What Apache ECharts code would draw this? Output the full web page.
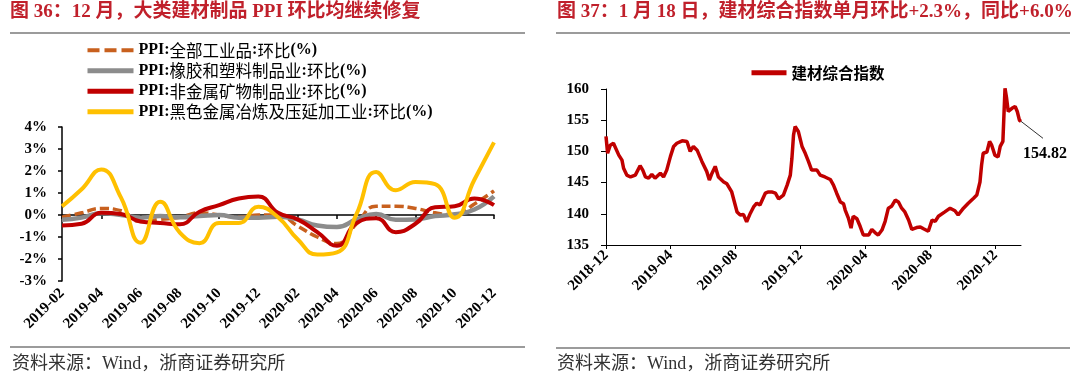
<!DOCTYPE html>
<html><head><meta charset="utf-8">
<script src="https://cdn.jsdelivr.net/npm/echarts@6/dist/echarts.min.js"></script>
<style>html,body{margin:0;padding:0;background:#fff}#c{width:1080px;height:374px}</style>
</head><body><div id="c"></div>
<script>
// ---------- Left chart data (PPI month-on-month, %) ----------
const months = ['2019-02','2019-03','2019-04','2019-05','2019-06','2019-07','2019-08','2019-09','2019-10','2019-11','2019-12','2020-01','2020-02','2020-03','2020-04','2020-05','2020-06','2020-07','2020-08','2020-09','2020-10','2020-11','2020-12'];
const nameAll = 'PPI:全部工业品:环比(%)';
const nameRubber = 'PPI:橡胶和塑料制品业:环比(%)';
const nameNonMetal = 'PPI:非金属矿物制品业:环比(%)';
const nameFerrous = 'PPI:黑色金属冶炼及压延加工业:环比(%)';
const ppiAll   = [-0.1, 0.1, 0.3, 0.2, -0.3, -0.2, -0.1, 0.1, 0.0, -0.1, 0.0, 0.0, -0.5, -1.0, -1.3, -0.4, 0.4, 0.4, 0.3, 0.1, 0.0, 0.5, 1.1];
const rubber   = [-0.22, -0.12, 0.08, 0.0, -0.12, -0.05, -0.1, -0.05, 0.0, -0.12, -0.12, -0.08, -0.2, -0.48, -0.55, -0.2, 0.05, -0.22, -0.2, -0.05, 0.03, 0.25, 0.85];
const nonMetal = [-0.48, -0.4, 0.1, 0.05, -0.3, -0.36, -0.42, 0.15, 0.45, 0.75, 0.84, 0.1, -0.2, -0.78, -1.4, -0.36, -0.15, -0.78, -0.4, 0.35, 0.4, 0.75, 0.45];
const ferrous  = [0.39, 1.17, 2.07, 0.8, -1.26, 0.6, -0.8, -1.28, -0.36, -0.36, 0.37, -0.1, -1.1, -1.8, -1.7, 0.05, 1.95, 1.13, 1.5, 1.4, -0.12, 1.6, 3.3];

// ---------- Right chart data (建材综合指数) ----------
const idxName = '建材综合指数';
const idxDates = ['2018-12-01','2018-12-04','2018-12-09','2018-12-15','2018-12-18','2018-12-25','2018-12-31','2019-01-03','2019-01-09','2019-01-16','2019-01-25','2019-02-03','2019-02-08','2019-02-13','2019-02-19','2019-02-25','2019-03-03','2019-03-13','2019-03-19','2019-03-25','2019-04-01','2019-04-07','2019-04-13','2019-04-23','2019-05-02','2019-05-08','2019-05-14','2019-05-21','2019-05-30','2019-06-08','2019-06-13','2019-06-18','2019-06-24','2019-06-30','2019-07-10','2019-07-16','2019-07-25','2019-08-04','2019-08-10','2019-08-16','2019-08-22','2019-08-29','2019-09-04','2019-09-10','2019-09-16','2019-09-26','2019-10-02','2019-10-08','2019-10-15','2019-10-21','2019-10-30','2019-11-06','2019-11-12','2019-11-15','2019-11-18','2019-11-21','2019-11-27','2019-12-04','2019-12-10','2019-12-16','2019-12-22','2020-01-01','2020-01-07','2020-01-16','2020-01-26','2020-02-01','2020-02-07','2020-02-14','2020-02-20','2020-02-23','2020-02-29','2020-03-05','2020-03-09','2020-03-16','2020-03-22','2020-03-28','2020-04-07','2020-04-13','2020-04-19','2020-04-25','2020-05-02','2020-05-08','2020-05-14','2020-05-20','2020-05-27','2020-06-02','2020-06-08','2020-06-14','2020-06-21','2020-06-27','2020-07-06','2020-07-13','2020-07-19','2020-07-28','2020-08-04','2020-08-10','2020-08-16','2020-08-28','2020-09-07','2020-09-16','2020-09-22','2020-10-02','2020-10-11','2020-10-21','2020-10-27','2020-11-02','2020-11-05','2020-11-08','2020-11-15','2020-11-20','2020-11-24','2020-11-30','2020-12-06','2020-12-10','2020-12-15','2020-12-19','2020-12-22','2020-12-25','2021-01-01','2021-01-07','2021-01-11','2021-01-15','2021-01-18'];
const idxValues = [152.4,149.7,151.0,151.3,151.0,149.4,148.6,147.3,146.2,145.9,146.2,147.7,147.0,145.9,145.7,146.3,145.7,146.5,145.9,147.0,149.2,150.8,151.3,151.7,151.6,150.0,150.8,150.2,148.4,146.8,145.4,146.5,147.6,145.9,145.1,144.8,143.5,140.3,139.8,139.9,138.7,140.1,141.1,141.7,141.4,143.3,143.5,143.5,143.3,142.4,143.0,144.6,146.2,148.9,152.6,154.0,153.2,150.8,149.7,148.4,147.0,147.0,146.2,145.9,145.5,144.6,143.3,141.9,141.6,140.6,139.3,137.7,139.6,139.2,138.0,136.6,136.6,137.5,137.0,136.6,137.4,138.8,140.9,141.2,142.2,141.9,140.9,140.3,139.0,137.5,137.8,137.9,137.6,137.2,139.0,138.8,139.6,140.3,140.9,140.5,139.8,140.9,141.7,142.5,143.0,145.1,147.8,149.7,149.9,151.6,151.0,149.4,149.1,150.8,151.6,160.1,158.5,156.4,156.9,157.2,156.4,155.0,154.82];
const idxTickDates = ['2018-12-01','2019-04-01','2019-08-01','2019-12-01','2020-04-01','2020-08-01','2020-12-01'];
const idxMin = '2018-12-01', idxMax = '2021-01-18';

// ---------- Texts ----------
const titleLeft = '图 36：12 月，大类建材制品 PPI 环比均继续修复';
const titleRight = '图 37：1 月 18 日，建材综合指数单月环比+2.3%，同比+6.0%';
const sourceText = '资料来源：Wind，浙商证券研究所';

function ts(s){ const p = s.split('-').map(Number); return new Date(p[0], p[1]-1, p[2]).getTime(); }
function ym(v){ const d = new Date(v); return d.getFullYear() + '-' + String(d.getMonth()+1).padStart(2,'0'); }
function richName(name){
  return name.replace(/[\x00-\x7F]+|[^\x00-\x7F]+/g, s => (/^[\x00-\x7F]/.test(s) ? '{a|' + s + '}' : '{b|' + s + '}'));
}

const SERIF = "'Liberation Serif', 'Noto Sans CJK SC', serif";
const CJK = "'Noto Sans CJK SC', sans-serif";
const RED_T = '#C0202B';

const chart = echarts.init(document.getElementById('c'), null, {renderer: 'canvas'});
const axisLabelStyle = {color: '#000', fontFamily: "'Liberation Serif', serif", fontWeight: 'bold', fontSize: 15};
const hideSym = {opacity: 0};

const option = {
  animation: false,
  backgroundColor: '#fff',
  title: [
    {text: titleLeft, left: 10, top: 3, padding: 0, textStyle: {color: RED_T, fontFamily: SERIF, fontWeight: 'bold', fontSize: 19}},
    {text: titleRight, left: 557, top: 3, padding: 0, textStyle: {color: RED_T, fontFamily: SERIF, fontWeight: 'bold', fontSize: 19}},
    {text: sourceText, left: 12, top: 355, padding: 0, textStyle: {color: '#333', fontFamily: SERIF, fontWeight: 'normal', fontSize: 18}},
    {text: sourceText, left: 557, top: 355, padding: 0, textStyle: {color: '#333', fontFamily: SERIF, fontWeight: 'normal', fontSize: 18}}
  ],
  legend: [
    {
      orient: 'vertical', left: 85, top: 42, itemWidth: 46, itemHeight: 14, itemGap: 4, padding: 0,
      data: [
        {name: nameAll, lineStyle: {width: 4, type: [12, 5]}, itemStyle: hideSym},
        {name: nameRubber, lineStyle: {width: 5}, itemStyle: hideSym},
        {name: nameNonMetal, lineStyle: {width: 5}, itemStyle: hideSym},
        {name: nameFerrous, lineStyle: {width: 5}, itemStyle: hideSym}
      ],
      formatter: richName,
      textStyle: {
        rich: {
          a: {fontFamily: "'Liberation Serif', serif", fontWeight: 'bold', fontSize: 16, color: '#000', lineHeight: 16},
          b: {fontFamily: CJK, fontWeight: 'normal', fontSize: 16.5, color: '#000', lineHeight: 16}
        }
      }
    },
    {
      left: 749, top: 65, itemWidth: 35, itemHeight: 14, padding: 0,
      data: [{name: idxName, lineStyle: {width: 5}, itemStyle: hideSym}],
      textStyle: {fontFamily: CJK, fontWeight: 'bold', fontSize: 15.5, color: '#000'}
    }
  ],
  grid: [
    {left: 62, top: 127, width: 432, height: 154},
    {left: 606, top: 89, width: 415, height: 156}
  ],
  xAxis: [
    {
      type: 'category', gridIndex: 0, data: months, boundaryGap: false,
      axisLine: {onZero: true, lineStyle: {color: '#000', width: 1.5}},
      axisTick: {interval: 1, length: 4, lineStyle: {color: '#000', width: 1.5}},
      axisLabel: {show: false}, splitLine: {show: false}
    },
    {
      type: 'category', gridIndex: 0, data: months, boundaryGap: false, position: 'bottom',
      axisLine: {show: false, onZero: false}, axisTick: {show: false},
      axisLabel: Object.assign({interval: 1, rotate: 45, margin: 10}, axisLabelStyle), splitLine: {show: false}
    },
    {
      type: 'value', gridIndex: 1, min: ts(idxMin), max: ts(idxMax), scale: true,
      axisLine: {onZero: false, lineStyle: {color: '#000', width: 1}},
      axisTick: {show: true, length: 4, customValues: idxTickDates.map(ts), lineStyle: {color: '#000'}},
      axisLabel: Object.assign({rotate: 45, margin: 8, customValues: idxTickDates.map(ts), formatter: ym}, axisLabelStyle),
      splitLine: {show: false}
    }
  ],
  yAxis: [
    {
      type: 'value', gridIndex: 0, min: -3, max: 4, interval: 1,
      axisLine: {show: true, lineStyle: {color: '#000', width: 1.5}},
      axisTick: {show: true, length: 4, lineStyle: {color: '#000', width: 1.5}},
      axisLabel: Object.assign({formatter: '{value}%', margin: 15}, axisLabelStyle),
      splitLine: {show: false}
    },
    {
      type: 'value', gridIndex: 1, min: 135, max: 160, interval: 5,
      axisLine: {show: true, onZero: false, lineStyle: {color: '#000', width: 1}},
      axisTick: {show: true, length: 5, lineStyle: {color: '#000'}},
      axisLabel: Object.assign({margin: 17}, axisLabelStyle),
      splitLine: {show: false}
    }
  ],
  series: [
    {name: nameAll, type: 'line', xAxisIndex: 0, yAxisIndex: 0, data: ppiAll, smooth: true, symbol: 'none',
      lineStyle: {color: '#C8601E', width: 3.5, type: [9, 4]}, itemStyle: {color: '#C8601E'}, z: 2},
    {name: nameRubber, type: 'line', xAxisIndex: 0, yAxisIndex: 0, data: rubber, smooth: true, symbol: 'none',
      lineStyle: {color: '#8C8C8C', width: 4.5}, itemStyle: {color: '#8C8C8C'}, z: 3},
    {name: nameNonMetal, type: 'line', xAxisIndex: 0, yAxisIndex: 0, data: nonMetal, smooth: true, symbol: 'none',
      lineStyle: {color: '#C00000', width: 4}, itemStyle: {color: '#C00000'}, z: 4},
    {name: nameFerrous, type: 'line', xAxisIndex: 0, yAxisIndex: 0, data: ferrous, smooth: true, symbol: 'none',
      lineStyle: {color: '#FFC000', width: 4}, itemStyle: {color: '#FFC000'}, z: 5},
    {name: idxName, type: 'line', xAxisIndex: 2, yAxisIndex: 1, data: idxDates.map((d, i) => [ts(d), idxValues[i]]),
      symbol: 'none', lineStyle: {color: '#C00000', width: 3.5}, itemStyle: {color: '#C00000'}}
  ],
  graphic: [
    {type: 'line', shape: {x1: 10, y1: 33, x2: 525, y2: 33}, style: {stroke: '#7a7a7a', lineWidth: 1.3}},
    {type: 'line', shape: {x1: 556, y1: 33, x2: 1070, y2: 33}, style: {stroke: '#7a7a7a', lineWidth: 1.3}},
    {type: 'line', shape: {x1: 10, y1: 347, x2: 525, y2: 347}, style: {stroke: '#7a7a7a', lineWidth: 1.3}},
    {type: 'line', shape: {x1: 556, y1: 348, x2: 1070, y2: 348}, style: {stroke: '#7a7a7a', lineWidth: 1.3}}
  ]
};
chart.setOption(option);

// annotation for the last index value, positioned through the chart's scales
const lastIdx = idxValues.length - 1;
const p = chart.convertToPixel({xAxisIndex: 2, yAxisIndex: 1}, [ts(idxDates[lastIdx]), idxValues[lastIdx]]);
chart.setOption({graphic: option.graphic.concat([
  {type: 'line', shape: {x1: p[0], y1: p[1], x2: p[0] + 22, y2: p[1] + 17}, style: {stroke: '#333', lineWidth: 1}},
  {type: 'text', x: p[0] + 2, y: p[1] + 25, style: {text: idxValues[lastIdx].toFixed(2), fill: '#000',
    font: "bold 16px 'Liberation Serif', serif", textVerticalAlign: 'top'}}
])});
</script>
</body></html>
